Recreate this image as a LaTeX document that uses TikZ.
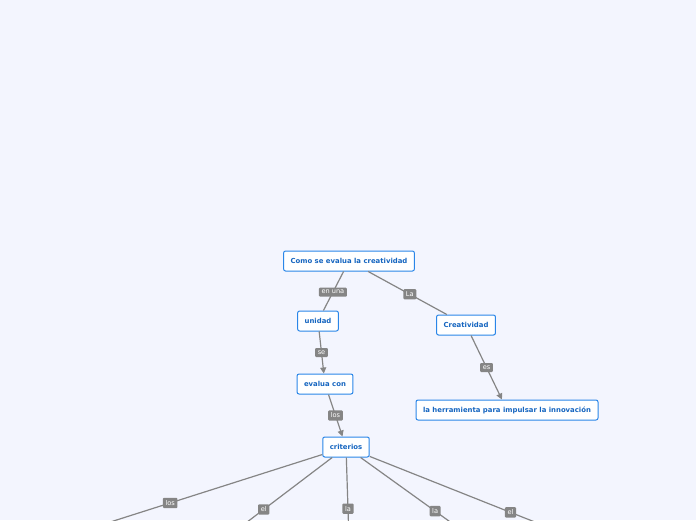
\documentclass[tikz,border=0pt]{standalone}
\usepackage{fontspec}
\setmainfont{DejaVu Sans}
\usetikzlibrary{arrows.meta}
\definecolor{bgx}{HTML}{F3F5FE}
\definecolor{bdx}{HTML}{2A86E8}
\definecolor{txx}{HTML}{1565C0}
\definecolor{lnx}{HTML}{858585}
\tikzset{
    topic/.style={draw=bdx,fill=white,rounded corners=2pt,line width=1pt,text=txx,
        font=\fontsize{6.9}{8}\selectfont\bfseries,inner xsep=7pt,minimum height=20pt},
    lab/.style={fill=lnx,text=white,rounded corners=1pt,inner sep=2.6pt,
        font=\fontsize{6.6}{7}\selectfont},
    link/.style={draw=lnx,line width=1.2pt},
    arr/.style={link,-{Triangle[length=6pt,width=6pt]}}
}
\begin{document}
\begin{tikzpicture}[x=1pt,y=-1pt]
    \fill[bgx] (0,0) rectangle (696,520);
    \clip (0,0) rectangle (696,520);
    \node [topic] (root) at (349,261) {Como se evalua la creatividad};
    \node [topic] (unidad) at (318,321) {unidad};
    \node [topic] (creat) at (466,325) {Creatividad};
    \node [topic] (evalua) at (325,384) {evalua con};
    \node [topic] (herr) at (507,410) {la herramienta para impulsar la innovación};
    \node [topic] (crit) at (346,447) {criterios};
    \coordinate (c1) at (60,538);
    \coordinate (c2) at (230,535);
    \coordinate (c3) at (349,540);
    \coordinate (c4) at (460,529);
    \coordinate (c5) at (560,532);
    \draw [link] (root) -- node[lab,pos=0.53]{en una} (unidad);
    \draw [link] (root) -- node[lab,pos=0.53]{La} (creat);
    \draw [arr] (unidad) -- node[lab]{se} (evalua);
    \draw [arr] (creat) -- node[lab]{es} (herr);
    \draw [arr] (evalua) -- node[lab]{los} (crit);
    \draw [link] (crit) -- node[lab,pos=0.58]{los} (c1);
    \draw [link] (crit) -- node[lab,pos=0.67]{el} (c2);
    \draw [link] (crit) -- node[lab,pos=0.62]{la} (c3);
    \draw [link] (crit) -- node[lab,pos=0.75]{la} (c4);
    \draw [link] (crit) -- node[lab,pos=0.74]{el} (c5);
\end{tikzpicture}
\end{document}
